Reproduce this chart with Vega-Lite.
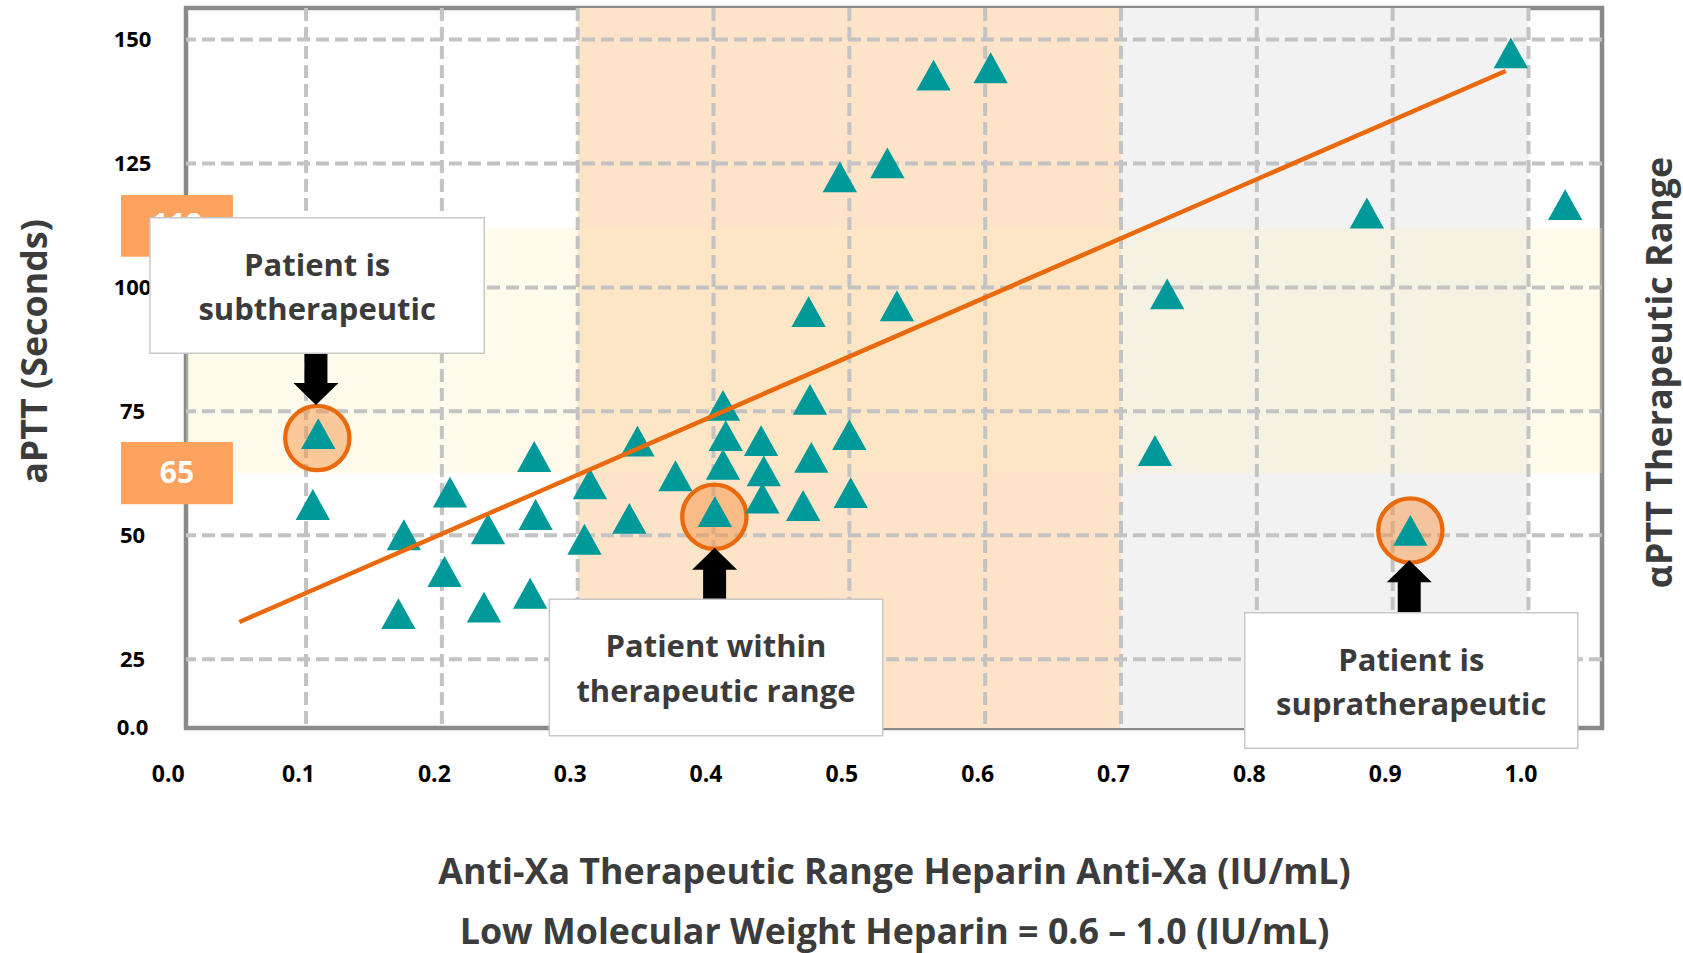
{
  "$schema": "https://vega.github.io/schema/vega-lite/v6.json",
  "width": 1416,
  "height": 720,
  "autosize": {"type": "none"},
  "padding": {"left": 186, "top": 8, "right": 81, "bottom": 225},
  "background": "white",
  "config": {"view": {"stroke": "#898989", "strokeWidth": 4.5}, "font": "Open Sans"},
  "datasets": {
    "vbands": [
      {"x": 0.3, "x2": 0.7, "band": "therapeutic"},
      {"x": 0.7, "x2": 1.0, "band": "supra"}
    ],
    "hband": [{"y": 62.5, "y2": 112.0}],
    "vgrid": [{"x": 0.1}, {"x": 0.2}, {"x": 0.3}, {"x": 0.4}, {"x": 0.5}, {"x": 0.6}, {"x": 0.7}, {"x": 0.8}, {"x": 0.9}, {"x": 1.0}],
    "hgrid": [{"y": 25}, {"y": 50}, {"y": 75}, {"y": 100}, {"y": 125}, {"y": 150}],
    "circles": [
      {"x": 0.1083, "y": 69.62},
      {"x": 0.4006, "y": 53.75},
      {"x": 0.9130, "y": 50.97}
    ],
    "points": [
      {"x": 0.109, "y": 70.5}, {"x": 0.105, "y": 56.2}, {"x": 0.172, "y": 50.1}, {"x": 0.206, "y": 58.7},
      {"x": 0.202, "y": 42.7}, {"x": 0.168, "y": 34.2}, {"x": 0.234, "y": 51.3}, {"x": 0.231, "y": 35.5},
      {"x": 0.268, "y": 65.9}, {"x": 0.269, "y": 54.2}, {"x": 0.265, "y": 38.3}, {"x": 0.309, "y": 60.4},
      {"x": 0.305, "y": 49.2}, {"x": 0.344, "y": 69.0}, {"x": 0.372, "y": 62.0}, {"x": 0.338, "y": 53.4},
      {"x": 0.401, "y": 54.8}, {"x": 0.407, "y": 76.2}, {"x": 0.409, "y": 70.1}, {"x": 0.407, "y": 64.3},
      {"x": 0.435, "y": 69.1}, {"x": 0.437, "y": 63.0}, {"x": 0.436, "y": 57.5}, {"x": 0.466, "y": 56.0},
      {"x": 0.472, "y": 65.7}, {"x": 0.471, "y": 77.4}, {"x": 0.470, "y": 95.1}, {"x": 0.500, "y": 70.3},
      {"x": 0.501, "y": 58.6}, {"x": 0.493, "y": 122.3}, {"x": 0.528, "y": 125.1}, {"x": 0.535, "y": 96.3},
      {"x": 0.562, "y": 142.8}, {"x": 0.604, "y": 144.3}, {"x": 0.725, "y": 67.1}, {"x": 0.734, "y": 98.7},
      {"x": 0.881, "y": 115.0}, {"x": 0.913, "y": 51.0}, {"x": 0.987, "y": 147.3}, {"x": 1.027, "y": 116.7}
    ],
    "trend": [{"x": 0.0509, "y": 32.51}, {"x": 0.9832, "y": 143.65}],
    "arrows": [
      {"x": 0.1073, "y": 81.53, "dir": "down"},
      {"x": 0.4008, "y": 42.22, "dir": "up"},
      {"x": 0.9122, "y": 39.70, "dir": "up"}
    ],
    "tags": [
      {"x": -0.0362, "x2": 0.0462, "y": 118.64, "y2": 106.19, "tx": 0.005, "ty": 112.3, "t": "110"},
      {"x": -0.0362, "x2": 0.0462, "y": 68.82, "y2": 56.25, "tx": 0.005, "ty": 62.32, "t": "65"}
    ],
    "callouts": [
      {"x": -0.0149, "x2": 0.2312, "y": 114.06, "y2": 86.71, "tx": 0.1082, "ty": 102.30, "t": "Patient is\nsubtherapeutic"},
      {"x": 0.2791, "x2": 0.5246, "y": 37.09, "y2": 9.58, "tx": 0.4018, "ty": 25.39, "t": "Patient within\ntherapeutic range"},
      {"x": 0.7911, "x2": 1.0363, "y": 34.39, "y2": 7.04, "tx": 0.9137, "ty": 22.69, "t": "Patient is\nsupratherapeutic"}
    ],
    "xzero": [{"x": 0, "y": 1.65, "t": "0.0"}]
  },
  "resolve": {"axis": {"x": "independent", "y": "independent"}},
  "layer": [
    {
      "data": {"name": "vbands"},
      "mark": {"type": "rect"},
      "encoding": {
        "x": {"field": "x", "type": "quantitative", "scale": {"domain": [0.01163, 1.05411], "nice": false, "zero": false}, "axis": null},
        "x2": {"field": "x2"},
        "color": {"field": "band", "type": "nominal", "scale": {"domain": ["therapeutic", "supra"], "range": ["#FDE3C7", "#F2F2F2"]}, "legend": null}
      }
    },
    {
      "data": {"name": "hband"},
      "mark": {"type": "rect", "color": "#FCEFC2", "opacity": 0.31},
      "encoding": {
        "y": {"field": "y", "type": "quantitative", "scale": {"domain": [11.13, 156.35], "nice": false, "zero": false}, "axis": null},
        "y2": {"field": "y2"}
      }
    },
    {
      "data": {"name": "vgrid"},
      "mark": {"type": "rule", "color": "#C3C3C3", "strokeWidth": 4, "strokeDash": [13, 6]},
      "encoding": {
        "x": {"field": "x", "type": "quantitative", "scale": {"domain": [0.01163, 1.05411], "nice": false, "zero": false}, "axis": null}
      }
    },
    {
      "data": {"name": "hgrid"},
      "mark": {"type": "rule", "color": "#C3C3C3", "strokeWidth": 4, "strokeDash": [13, 6]},
      "encoding": {
        "y": {
          "field": "y", "type": "quantitative",
          "scale": {"domain": [11.13, 156.35], "nice": false, "zero": false},
          "axis": {
            "orient": "right", "labels": false, "ticks": false, "domain": false, "grid": false,
            "title": "αPTT Therapeutic Range",
            "titleFont": "Open Sans", "titleFontWeight": "bold", "titleFontSize": 35.8, "titleColor": "#3c3c3c",
            "titleAngle": 270, "titleX": 58, "titleY": 364, "titleBaseline": "middle", "titleAlign": "center"
          }
        }
      }
    },
    {
      "data": {"name": "circles"},
      "mark": {"type": "point", "shape": "circle", "filled": true, "size": 4128, "fill": "#F79646", "fillOpacity": 0.5, "stroke": "#E9690C", "strokeWidth": 4.3, "strokeOpacity": 1, "opacity": 1},
      "encoding": {
        "x": {"field": "x", "type": "quantitative", "scale": {"domain": [0.01163, 1.05411], "nice": false, "zero": false}, "axis": null},
        "y": {"field": "y", "type": "quantitative", "scale": {"domain": [11.13, 156.35], "nice": false, "zero": false}, "axis": null}
      }
    },
    {
      "data": {"name": "points"},
      "mark": {"type": "point", "shape": "M0,-0.9L1,0.9L-1,0.9Z", "filled": true, "size": 1176, "color": "#009999", "opacity": 1},
      "encoding": {
        "x": {
          "field": "x", "type": "quantitative",
          "scale": {"domain": [0.01163, 1.05411], "nice": false, "zero": false},
          "axis": {
            "orient": "bottom",
            "values": [0.1, 0.2, 0.3, 0.4, 0.5, 0.6, 0.7, 0.8, 0.9, 1.0],
            "format": ".1f",
            "grid": false, "ticks": false, "tickSize": 0, "domain": false,
            "labelFont": "Open Sans", "labelFontWeight": "bold", "labelFontSize": 23, "labelColor": "#000000",
            "labelPadding": 46, "labelBaseline": "middle", "labelOffset": -8, "labelFlush": false, "labelOverlap": false, "labelAngle": 0,
            "title": ["Anti-Xa Therapeutic Range Heparin Anti-Xa (IU/mL)", "Low Molecular Weight Heparin = 0.6 – 1.0 (IU/mL)"],
            "titleFont": "Open Sans", "titleFontWeight": "bold", "titleFontSize": 35.8, "titleColor": "#3c3c3c",
            "titleLineHeight": 60, "titleBaseline": "alphabetic", "titleAlign": "center", "titleX": 708, "titleY": 155
          }
        },
        "y": {
          "field": "y", "type": "quantitative",
          "scale": {"domain": [11.13, 156.35], "nice": false, "zero": false},
          "axis": {
            "orient": "left",
            "values": [11.2, 25, 50, 75, 100, 125, 150],
            "format": "d",
            "labelExpr": "datum.value < 20 ? '0.0' : datum.label",
            "grid": false, "ticks": false, "tickSize": 0, "domain": false,
            "labelFont": "Open Sans", "labelFontWeight": "bold", "labelFontSize": 22, "labelColor": "#000000",
            "labelAlign": "center", "labelPadding": 54, "labelBaseline": "middle", "labelFlush": false, "labelOverlap": false,
            "title": "aPTT (Seconds)",
            "titleFont": "Open Sans", "titleFontWeight": "bold", "titleFontSize": 35.8, "titleColor": "#3c3c3c",
            "titleAngle": 270, "titleX": -150.5, "titleY": 343, "titleBaseline": "middle", "titleAlign": "center"
          }
        }
      }
    },
    {
      "data": {"name": "trend"},
      "mark": {"type": "line", "color": "#E9690C", "strokeWidth": 4.5},
      "encoding": {
        "x": {"field": "x", "type": "quantitative", "scale": {"domain": [0.01163, 1.05411], "nice": false, "zero": false}, "axis": null},
        "y": {"field": "y", "type": "quantitative", "scale": {"domain": [11.13, 156.35], "nice": false, "zero": false}, "axis": null}
      }
    },
    {
      "data": {"name": "arrows"},
      "mark": {"type": "point", "filled": true, "size": 2704, "color": "#000000", "opacity": 1},
      "encoding": {
        "x": {"field": "x", "type": "quantitative", "scale": {"domain": [0.01163, 1.05411], "nice": false, "zero": false}, "axis": null},
        "y": {"field": "y", "type": "quantitative", "scale": {"domain": [11.13, 156.35], "nice": false, "zero": false}, "axis": null},
        "shape": {
          "field": "dir", "type": "nominal", "legend": null,
          "scale": {"domain": ["down", "up"], "range": ["M-0.442,-1L0.442,-1L0.442,0.154L0.865,0.154L0,1L-0.865,0.154L-0.442,0.154Z", "M-0.442,1L0.442,1L0.442,-0.154L0.865,-0.154L0,-1L-0.865,-0.154L-0.442,-0.154Z"]}
        }
      }
    },
    {
      "data": {"name": "tags"},
      "mark": {"type": "rect", "color": "#FBA35E"},
      "encoding": {
        "x": {"field": "x", "type": "quantitative", "scale": {"domain": [0.01163, 1.05411], "nice": false, "zero": false}, "axis": null},
        "x2": {"field": "x2"},
        "y": {"field": "y", "type": "quantitative", "scale": {"domain": [11.13, 156.35], "nice": false, "zero": false}, "axis": null},
        "y2": {"field": "y2"}
      }
    },
    {
      "data": {"name": "tags"},
      "mark": {"type": "text", "color": "#FFFFFF", "font": "Open Sans", "fontWeight": "bold", "fontSize": 30, "align": "center", "baseline": "middle"},
      "encoding": {
        "x": {"field": "tx", "type": "quantitative", "scale": {"domain": [0.01163, 1.05411], "nice": false, "zero": false}, "axis": null},
        "y": {"field": "ty", "type": "quantitative", "scale": {"domain": [11.13, 156.35], "nice": false, "zero": false}, "axis": null},
        "text": {"field": "t", "type": "nominal"}
      }
    },
    {
      "data": {"name": "callouts"},
      "mark": {"type": "rect", "fill": "#FFFFFF", "stroke": "#C8C8C8", "strokeWidth": 1.5},
      "encoding": {
        "x": {"field": "x", "type": "quantitative", "scale": {"domain": [0.01163, 1.05411], "nice": false, "zero": false}, "axis": null},
        "x2": {"field": "x2"},
        "y": {"field": "y", "type": "quantitative", "scale": {"domain": [11.13, 156.35], "nice": false, "zero": false}, "axis": null},
        "y2": {"field": "y2"}
      }
    },
    {
      "data": {"name": "callouts"},
      "mark": {"type": "text", "color": "#3b3b3b", "font": "Open Sans", "fontWeight": "bold", "fontSize": 31, "align": "center", "baseline": "alphabetic", "lineBreak": "\n", "lineHeight": 44.5},
      "encoding": {
        "x": {"field": "tx", "type": "quantitative", "scale": {"domain": [0.01163, 1.05411], "nice": false, "zero": false}, "axis": null},
        "y": {"field": "ty", "type": "quantitative", "scale": {"domain": [11.13, 156.35], "nice": false, "zero": false}, "axis": null},
        "text": {"field": "t", "type": "nominal"}
      }
    },
    {
      "data": {"name": "xzero"},
      "mark": {"type": "text", "color": "#000000", "font": "Open Sans", "fontWeight": "bold", "fontSize": 23, "align": "center", "baseline": "middle", "dx": -2},
      "encoding": {
        "x": {"field": "x", "type": "quantitative", "scale": {"domain": [0.01163, 1.05411], "nice": false, "zero": false}, "axis": null},
        "y": {"field": "y", "type": "quantitative", "scale": {"domain": [11.13, 156.35], "nice": false, "zero": false}, "axis": null},
        "text": {"field": "t", "type": "nominal"}
      }
    }
  ]
}
